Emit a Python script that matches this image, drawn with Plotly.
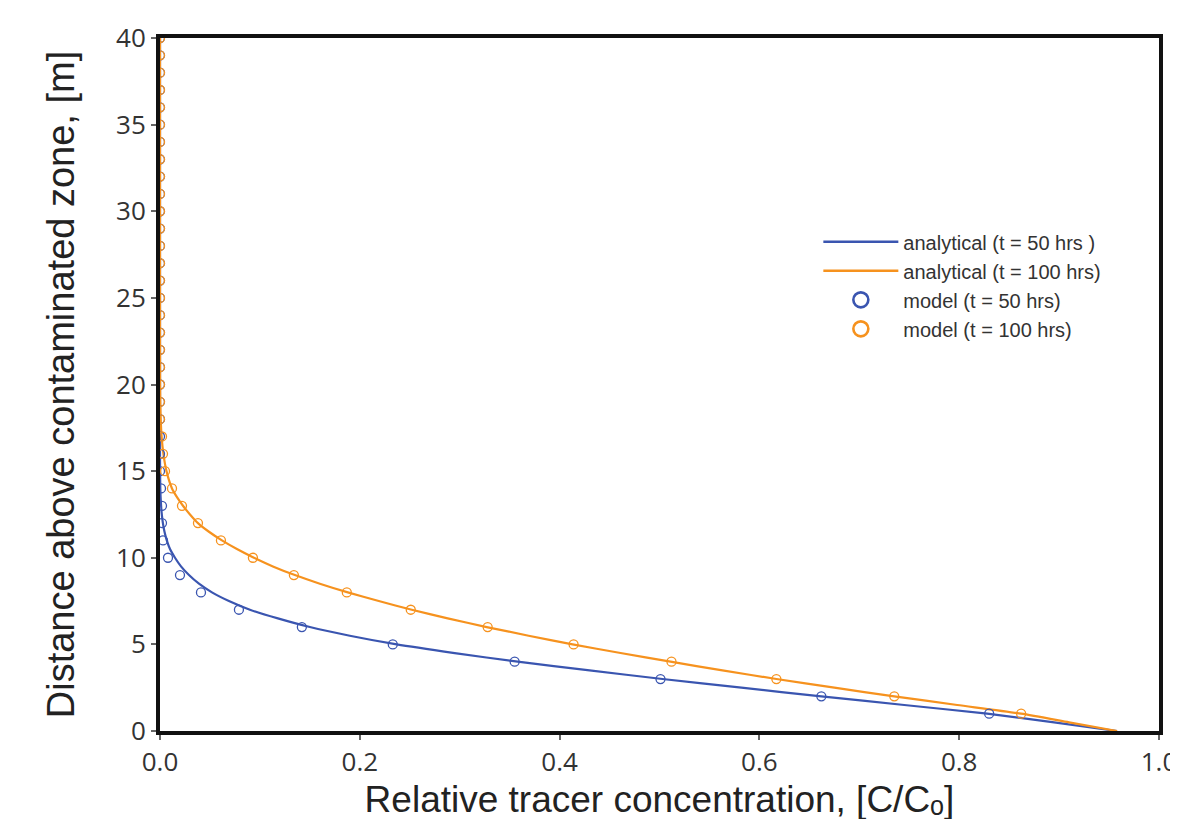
import plotly.graph_objects as go

# ---- data ----
# analytical curves: concentration (x) at given heights (y)
curve_y = [0, 0.5, 1, 1.5, 2, 2.5, 3, 3.5, 4, 4.5, 5, 5.5, 6, 6.5, 7, 7.5, 8, 8.5, 9, 9.5,
           10, 10.5, 11, 11.5, 12, 12.5, 13, 13.5, 14, 15, 16, 17, 18, 19, 20, 25, 30, 35, 40]
analytical_50 = [0.958, 0.895, 0.828, 0.745, 0.662, 0.582, 0.503, 0.430, 0.358, 0.295, 0.237,
                 0.190, 0.150, 0.118, 0.090, 0.069, 0.052, 0.039, 0.029, 0.021,
                 0.015, 0.010, 0.0068, 0.0045, 0.0029, 0.0018, 0.0011, 0.0006, 0.0003,
                 0.0001, 0.0, 0.0, 0.0, 0.0, 0.0, 0.0, 0.0, 0.0, 0.0]
analytical_100 = [0.958, 0.910, 0.862, 0.798, 0.735, 0.675, 0.617, 0.563, 0.511, 0.461, 0.413,
                  0.369, 0.327, 0.288, 0.252, 0.219, 0.188, 0.160, 0.135, 0.113,
                  0.094, 0.077, 0.062, 0.049, 0.038, 0.030, 0.023, 0.017, 0.012,
                  0.0065, 0.0034, 0.0016, 0.0007, 0.0003, 0.0001, 0.0, 0.0, 0.0, 0.0]

# model results at 1 m intervals
model_y = list(range(1, 41))
model_50 = [0.830, 0.662, 0.501, 0.355, 0.233, 0.142, 0.079, 0.041, 0.020, 0.008,
            0.003, 0.002, 0.002, 0.001] + [0.0] * 26
model_100 = [0.862, 0.735, 0.617, 0.512, 0.414, 0.328, 0.251, 0.187, 0.134, 0.093,
             0.061, 0.038, 0.022, 0.012, 0.005, 0.003, 0.002] + [0.0] * 23

x_ticks = [0.0, 0.2, 0.4, 0.6, 0.8, 1.0]
x_ticktext = ["0.0", "0.2", "0.4", "0.6", "0.8", "1.0"]
y_ticks = [0, 5, 10, 15, 20, 25, 30, 35, 40]

BLUE = "#3a55b0"
ORANGE = "#f6921e"

fig = go.Figure()

fig.add_trace(go.Scatter(x=analytical_50, y=curve_y, mode="lines",
                         line=dict(color=BLUE, width=2.2, shape="spline", smoothing=0.6),
                         showlegend=False, hoverinfo="skip"))
fig.add_trace(go.Scatter(x=analytical_100, y=curve_y, mode="lines",
                         line=dict(color=ORANGE, width=2.2, shape="spline", smoothing=0.6),
                         showlegend=False, hoverinfo="skip"))
fig.add_trace(go.Scatter(x=model_50, y=model_y, mode="markers",
                         marker=dict(symbol="circle-open", size=9, color=BLUE,
                                     line=dict(width=1.3, color=BLUE)),
                         showlegend=False))
fig.add_trace(go.Scatter(x=model_100, y=model_y, mode="markers",
                         marker=dict(symbol="circle-open", size=9, color=ORANGE,
                                     line=dict(width=1.3, color=ORANGE)),
                         showlegend=False))

# legend entries
legend_items = [
    ("analytical (t = 50 hrs )", "lines", BLUE),
    ("analytical (t = 100 hrs)", "lines", ORANGE),
    ("model (t = 50 hrs)", "markers", BLUE),
    ("model (t = 100 hrs)", "markers", ORANGE),
]
for i, (name, mode, col) in enumerate(legend_items):
    if mode == "lines":
        fig.add_trace(go.Scatter(x=[None], y=[None], mode="lines", name=name,
                                 line=dict(color=col, width=2.5)))
    else:
        fig.add_trace(go.Scatter(x=[None], y=[None], mode="markers", name=name,
                                 marker=dict(symbol="circle-open", size=15, color=col,
                                             line=dict(width=2.6, color=col))))

fig.update_layout(
    width=1178, height=819,
    margin=dict(l=152, r=27, t=30, b=96),
    plot_bgcolor="white", paper_bgcolor="white",
    font=dict(family="Liberation Sans, Arial, sans-serif", color="#222"),
    legend=dict(x=0.659, y=0.734, xanchor="left", yanchor="top",
                bgcolor="rgba(0,0,0,0)", borderwidth=0,
                font=dict(family="Liberation Sans, Arial, sans-serif", size=20, color="#333"),
                tracegroupgap=0, itemwidth=75, traceorder="normal"),
)

fig.update_xaxes(
    range=[0, 1.0], tickvals=x_ticks, ticktext=x_ticktext, automargin=False,
    showgrid=False, zeroline=False,
    showline=True, linecolor="#111", linewidth=4, mirror=True,
    ticks="outside", ticklen=5, tickwidth=1.5, tickcolor="#666",
    tickfont=dict(family="Open Sans, sans-serif", size=26, color="#333"),
    title=dict(text="Relative tracer concentration, [C/C\u2092]",
               font=dict(family="Liberation Sans, DejaVu Sans, sans-serif", size=37, color="#222"),
               standoff=1),
)
fig.update_yaxes(
    range=[0, 40], tickvals=y_ticks, automargin=False,
    showgrid=False, zeroline=False,
    showline=True, linecolor="#111", linewidth=4, mirror=True,
    ticks="outside", ticklen=5, tickwidth=1.5, tickcolor="#666",
    tickfont=dict(family="Open Sans, sans-serif", size=26, color="#333"),
    title=dict(text="Distance above contaminated zone, [m]",
               font=dict(family="Liberation Sans, Arial, sans-serif", size=38, color="#222"),
               standoff=31),
)

fig.write_html("out.html")
